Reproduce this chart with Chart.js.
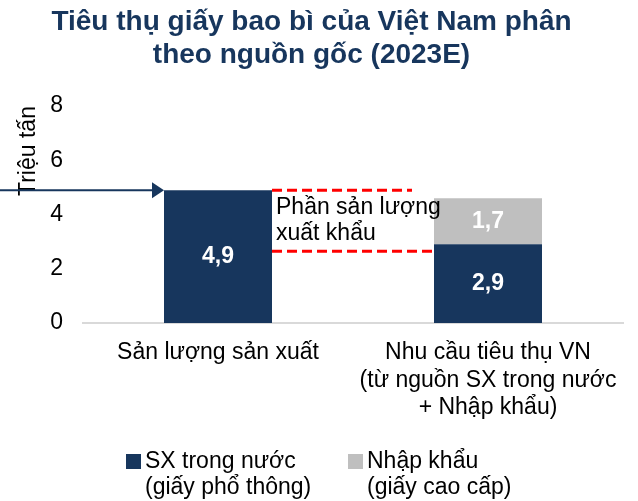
<!DOCTYPE html>
<html lang="vi">
<head>
<meta charset="UTF-8">
<title>Tiêu thụ giấy bao bì của Việt Nam</title>
<script src="https://cdn.jsdelivr.net/npm/chart.js"></script>
<style>
  html, body { margin: 0; padding: 0; background: #fff; }
  canvas { display: block; }
</style>
</head>
<body>
<canvas id="chart" width="638" height="501"></canvas>
<script>
// ---- data ----
const titleLines = ['Tiêu thụ giấy bao bì của Việt Nam phân', 'theo nguồn gốc (2023E)'];
const categories = [
  ['Sản lượng sản xuất'],
  ['Nhu cầu tiêu thụ VN', '(từ nguồn SX trong nước', '+ Nhập khẩu)']
];
const domestic = [4.9, 2.9];   // SX trong nước
const imported = [null, 1.7];  // Nhập khẩu
const yTicks = [0, 2, 4, 6, 8];
const yTitle = 'Triệu tấn';
const seriesNames = ['SX trong nước (giấy phổ thông)', 'Nhập khẩu (giấy cao cấp)'];
const legendLines = [['SX trong nước', '(giấy phổ thông)'], ['Nhập khẩu', '(giấy cao cấp)']];
const exportBand = [2.65, 4.9];          // red dashed lines (low, high)
const exportNote = ['Phần sản lượng', 'xuất khẩu'];

const NAVY = '#17365d';
const GREY = '#bfbfbf';
const FONT = "'Liberation Sans', Arial, sans-serif";

const fmt = v => v.toFixed(1).replace('.', ',');

const extras = {
  id: 'extras',
  afterDatasetsDraw(chart) {
    const ctx = chart.ctx;
    const y = chart.scales.y;
    const bars0 = chart.getDatasetMeta(0).data;
    const bars1 = chart.getDatasetMeta(1).data;

    // value labels inside bars
    ctx.save();
    ctx.fillStyle = '#fff';
    ctx.font = 'bold 23px ' + FONT;
    ctx.textAlign = 'center';
    ctx.textBaseline = 'middle';
    [[bars0, domestic], [bars1, imported]].forEach(([bars, vals]) => {
      bars.forEach((b, i) => {
        if (vals[i] == null) return;
        ctx.fillText(fmt(vals[i]), b.x, (b.y + b.base) / 2);
      });
    });
    ctx.restore();

    // arrow pointing at first bar
    const b0 = bars0[0], b1 = bars0[1];
    const left0 = b0.x - b0.width / 2, right0 = b0.x + b0.width / 2;
    const left1 = b1.x - b1.width / 2;
    const ay = y.getPixelForValue(domestic[0]);
    ctx.save();
    ctx.strokeStyle = NAVY;
    ctx.fillStyle = NAVY;
    ctx.lineWidth = 2;
    ctx.beginPath();
    ctx.moveTo(0, ay);
    ctx.lineTo(left0 - 10, ay);
    ctx.stroke();
    ctx.beginPath();
    ctx.moveTo(left0, ay);
    ctx.lineTo(left0 - 12, ay - 8);
    ctx.lineTo(left0 - 12, ay + 8);
    ctx.closePath();
    ctx.fill();
    ctx.restore();

    // red dashed export band
    const yHi = y.getPixelForValue(exportBand[1]);
    const yLo = y.getPixelForValue(exportBand[0]);
    ctx.save();
    ctx.strokeStyle = '#ff0000';
    ctx.lineWidth = 3;
    ctx.setLineDash([10, 5]);
    ctx.beginPath();
    ctx.moveTo(right0, yHi);
    ctx.lineTo(left1 - 22, yHi);
    ctx.moveTo(right0, yLo);
    ctx.lineTo(left1, yLo);
    ctx.stroke();
    ctx.restore();

    // note text
    ctx.save();
    ctx.fillStyle = '#000';
    ctx.font = '23px ' + FONT;
    ctx.textAlign = 'left';
    ctx.textBaseline = 'middle';
    exportNote.forEach((t, i) => ctx.fillText(t, right0 + 4, yHi + 18 + i * 26));
    ctx.restore();
  },
  afterDraw(chart) {
    // legend, two-line labels
    const ctx = chart.ctx;
    const xs = [126, 348];
    ctx.save();
    ctx.font = '23px ' + FONT;
    ctx.textAlign = 'left';
    ctx.textBaseline = 'middle';
    chart.data.datasets.forEach((ds, i) => {
      ctx.fillStyle = ds.backgroundColor;
      ctx.fillRect(xs[i], 454, 15, 15);
      ctx.fillStyle = '#000';
      legendLines[i].forEach((t, j) => ctx.fillText(t, xs[i] + 19, 462 + j * 26));
    });
    ctx.restore();
  }
};

new Chart(document.getElementById('chart'), {
  type: 'bar',
  data: {
    labels: categories,
    datasets: [
      { label: seriesNames[0], data: domestic, backgroundColor: NAVY },
      { label: seriesNames[1], data: imported, backgroundColor: GREY }
    ]
  },
  options: {
    responsive: false,
    animation: false,
    layout: { padding: { left: 0, right: 15, top: 0, bottom: 68 } },
    datasets: { bar: { barPercentage: 0.4, categoryPercentage: 1.0 } },
    plugins: {
      legend: { display: false },
      tooltip: { enabled: false },
      title: {
        display: true,
        text: titleLines,
        color: NAVY,
        font: { family: FONT, size: 28, weight: 'bold', lineHeight: 1.18 },
        padding: { top: 6, bottom: 34 }
      }
    },
    scales: {
      x: {
        stacked: true,
        grid: { display: false, drawTicks: false },
        border: { display: true, color: '#d9d9d9', width: 2 },
        ticks: { color: '#000', padding: 16, maxRotation: 0, autoSkip: false,
                 font: { family: FONT, size: 23, lineHeight: 1.2 } },
        afterFit: s => { s.height = 110; }
      },
      y: {
        stacked: true,
        min: 0,
        max: 8,
        grid: { display: false, drawTicks: false },
        border: { display: false },
        afterBuildTicks: s => { s.ticks = yTicks.map(v => ({ value: v })); },
        ticks: { color: '#000', padding: 20, font: { family: FONT, size: 23 } },
        title: {
          display: true, text: yTitle, align: 'end', color: '#000',
          font: { family: FONT, size: 23, lineHeight: 1.2 },
          padding: { top: 15, bottom: 0 }
        },
        afterFit: s => { s.width = 83; }
      }
    }
  },
  plugins: [extras]
});
</script>
</body>
</html>
